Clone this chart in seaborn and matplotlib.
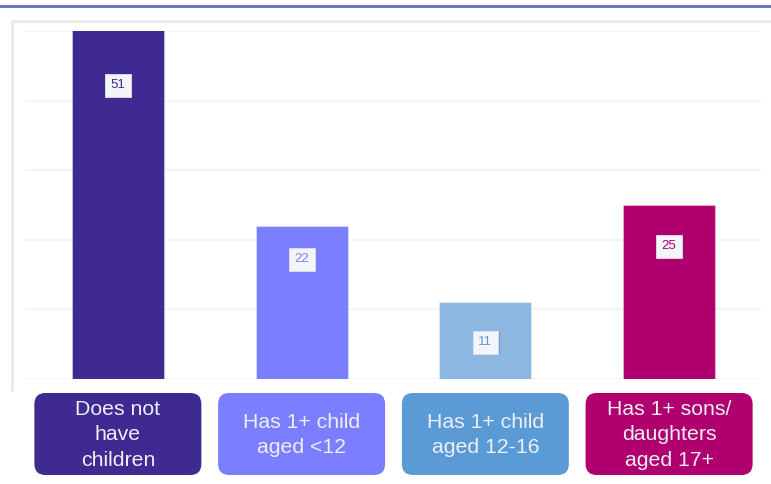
import matplotlib
matplotlib.use("Agg")
import matplotlib.pyplot as plt
import seaborn as sns
import pandas as pd
from matplotlib.patches import FancyBboxPatch
from matplotlib.lines import Line2D
from matplotlib.transforms import IdentityTransform
import matplotlib.patheffects as pe

# Share of respondents by parental status (%)
categories = ["Does not\nhave\nchildren", "Has 1+ child\naged <12",
              "Has 1+ child\naged 12-16", "Has 1+ sons/\ndaughters\naged 17+"]
values = [51, 22, 11, 25]

bar_colors = ["#3f2a91", "#7a7eff", "#8bb7e1", "#b0006f"]
box_colors = ["#3f2a91", "#7a7eff", "#5b9bd5", "#b0006f"]
badge_text_colors = ["#3f2a91", "#7a7eff", "#5b9bd5", "#b0006f"]
# vertical placement of value badges (in axis units)
badge_y = [42.2, 17.2, 5.3, 19.1]

W, H, DPI = 771, 484, 100
sns.set_theme(style="white")
plt.rcParams["font.family"] = ["Liberation Sans", "DejaVu Sans"]

fig = plt.figure(figsize=(W / DPI, H / DPI), dpi=DPI)
ax = fig.add_axes([26 / W, 1 - 379 / H, (761 - 26) / W, (379 - 31) / H])

df = pd.DataFrame({"cat": categories, "val": values})
sns.barplot(data=df, x="cat", y="val", hue="cat", palette=bar_colors,
            width=0.5, legend=False, ax=ax, saturation=1,
            edgecolor=(1, 1, 1, 0.35), linewidth=0.8)

ax.set_ylim(0, 50)
ax.set_xlim(-0.5, len(categories) - 0.5)
ax.set_yticks([0, 10, 20, 30, 40, 50])
ax.yaxis.grid(True, color="#f2f2f2", linewidth=1.2)
ax.set_axisbelow(True)
ax.set_xticks([])
ax.set_yticklabels([])
ax.tick_params(left=False, bottom=False)
ax.set_xlabel("")
ax.set_ylabel("")
for s in ax.spines.values():
    s.set_visible(False)

# value badges
for i, (v, y) in enumerate(zip(values, badge_y)):
    t = ax.text(i, y, str(v), ha="center", va="center", fontsize=9.5,
                color=badge_text_colors[i],
                bbox=dict(boxstyle="square,pad=0.42", facecolor="#f4f4fb",
                          edgecolor="#e0e0ee", linewidth=0.6))
    t.get_bbox_patch().set_path_effects(
        [pe.SimplePatchShadow(offset=(1.2, -1.2), alpha=0.25), pe.Normal()])

# category label boxes below the bars
fig.canvas.draw()
box_w, box_top, box_bot = 167, 393, 475
for i, lab in enumerate(categories):
    cx = ax.transData.transform((i, 0))[0]
    patch = FancyBboxPatch((cx - box_w / 2, H - box_bot), box_w, box_bot - box_top,
                           boxstyle="round,pad=0,rounding_size=11",
                           transform=IdentityTransform(), facecolor=box_colors[i],
                           edgecolor="none", clip_on=False, zorder=2)
    fig.patches.append(patch)
    fig.text(cx / W, 1 - ((box_top + box_bot) / 2 + 1) / H, lab,
             ha="center", va="center", fontsize=15.3, color="#eeeef5",
             linespacing=1.45, zorder=5)

# outer frame and header rule
fig.add_artist(Line2D([0, 1], [1 - 5.5 / H] * 2, color="#6b74c0", linewidth=2.2,
                      transform=fig.transFigure))
fig.add_artist(Line2D([12 / W, 1], [1 - 21 / H] * 2, color="#e8e8e8", linewidth=1.8,
                      transform=fig.transFigure))
fig.add_artist(Line2D([12 / W] * 2, [1 - 21 / H, 1 - 390 / H], color="#e8e8e8",
                      linewidth=1.8, transform=fig.transFigure))

fig.savefig("out.png", dpi=DPI)
